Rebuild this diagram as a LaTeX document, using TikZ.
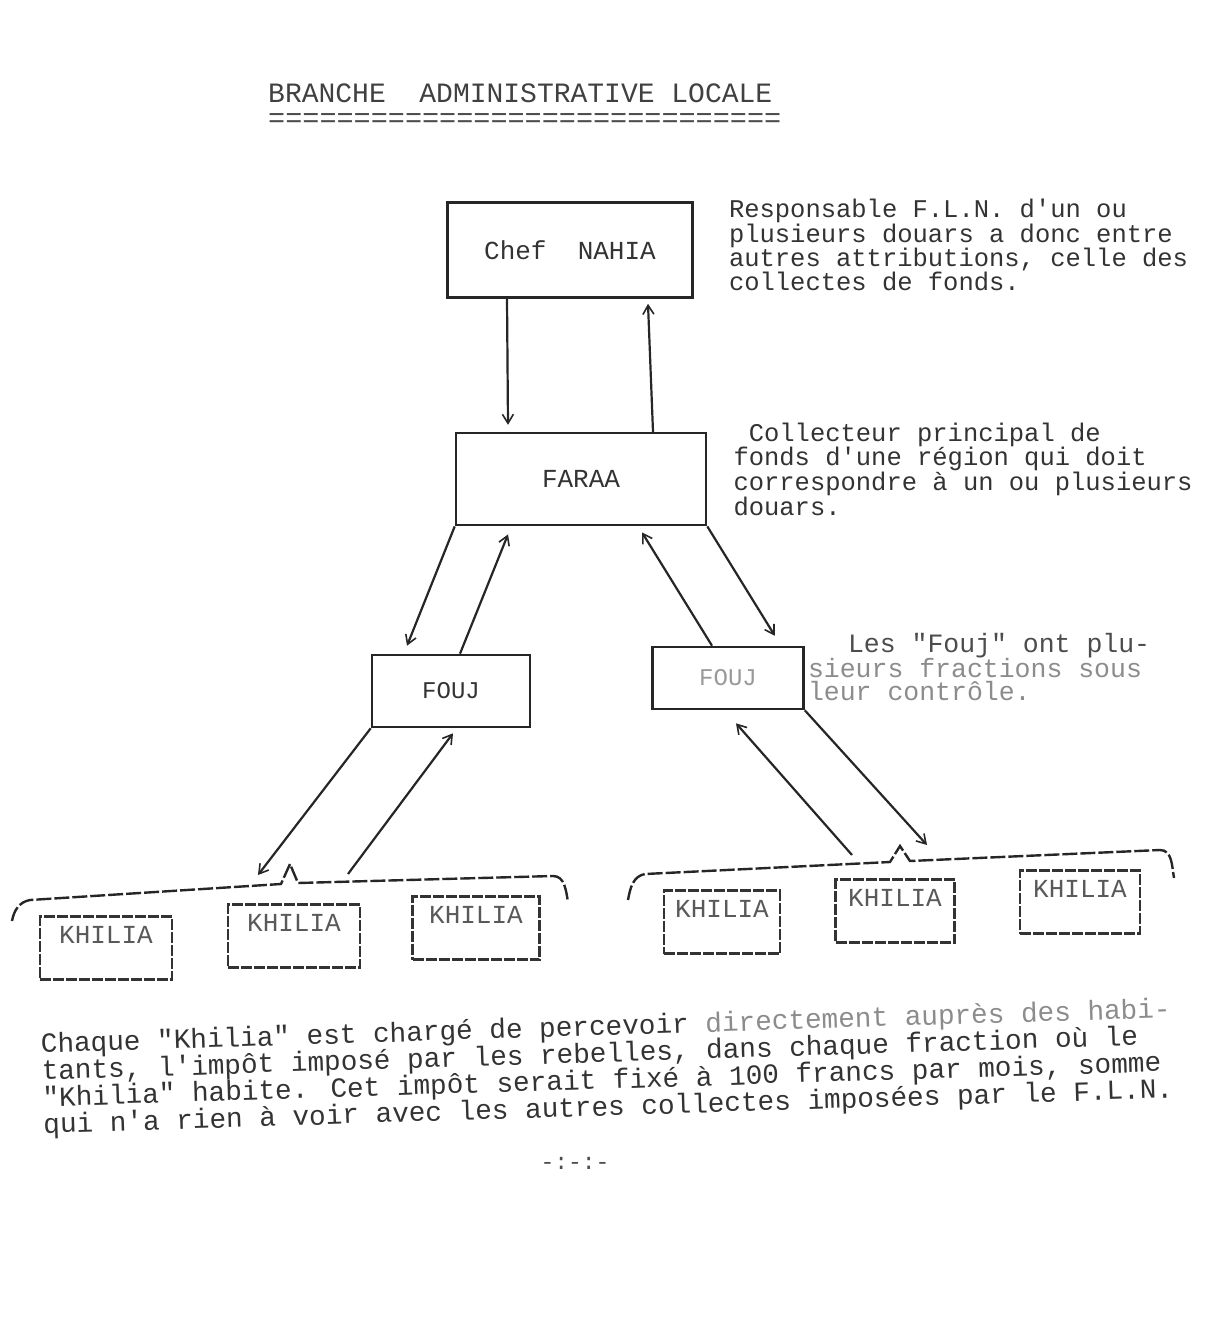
\documentclass[tikz,border=0pt]{standalone}
\usepackage{fontspec}
\setmainfont{Liberation Mono}[Ligatures=TeXOff]
\usepackage{tikz}
\usepackage{xcolor}
\usetikzlibrary{arrows.meta, positioning}
\tikzstyle{bigbox} = [rectangle, draw=black!85, line width=2.6pt, text centered, text=black!80, font=\fontsize{26}{26}\selectfont]
\tikzstyle{smallbox} = [rectangle, draw=black!80, line width=2.2pt, dash pattern=on 11pt off 2pt, inner sep=0pt, text height=27pt, text depth=36pt, text=black!65, font=\fontsize{26}{26}\selectfont]
\tikzstyle{note} = [align=left, inner sep=0pt, text=black!80, font=\fontsize{25.5}{22.5}\selectfont]
\tikzstyle{arrow} = [line width=2.2pt, draw=black!85, -{Straight Barb[length=9pt,width=11pt,line width=1.6pt]}]
\tikzstyle{brace} = [line width=2.4pt, draw=black!85, dash pattern=on 15pt off 3pt]

\begin{document}
\begin{tikzpicture}[x=1pt, y=-1pt]
    \useasboundingbox (0,0) rectangle (1220,1338);
    \node (title) [anchor=west, inner sep=0pt, text=black!75, font=\fontsize{28}{28}\selectfont] at (268,93) {BRANCHE~~ADMINISTRATIVE~LOCALE};
    \node (rule) [anchor=west, inner sep=0pt, text=black!70, font=\fontsize{28.5}{28}\selectfont] at (268,121) {==============================};

    \node (chef) [bigbox, minimum width=245pt, minimum height=95pt] at (570,250) {Chef~~NAHIA};
    \node (faraa) [bigbox, minimum width=250pt, minimum height=92pt, below=133pt of chef, xshift=11pt] {FARAA};
    \node (fouj1) [bigbox, minimum width=158pt, minimum height=72pt, font=\fontsize{24}{24}\selectfont] at (451,691) {FOUJ};
    \node (fouj2) [bigbox, minimum width=151pt, minimum height=62pt, text=black!40, font=\fontsize{24}{24}\selectfont] at (728,678) {FOUJ};

    \node (resp) [note, right=35pt of chef, yshift=5pt] {Responsable F.L.N. d'un ou\\plusieurs douars a donc entre\\autres attributions, celle des\\collectes de fonds.};
    \node (coll) [note, right=26pt of faraa, yshift=10pt] {~Collecteur principal de\\fonds d'une région qui doit\\correspondre à un ou plusieurs\\douars.};
    \node (foujnote) [note, right=3pt of fouj2, yshift=11pt, text=black!45, font=\fontsize{26.5}{23}\selectfont] {\hspace*{40pt}{\color{black!70}Les "Fouj" ont plu-}\\sieurs fractions sous\\leur contrôle.};

    % khilia row, left group then right group
    \node (k1) [smallbox, minimum width=132pt] at (106,948) {KHILIA};
    \node (k2) [smallbox, minimum width=132pt] at (294,936) {KHILIA};
    \node (k3) [smallbox, minimum width=127pt] at (476,928) {KHILIA};
    \node (k4) [smallbox, minimum width=116pt] at (722,922) {KHILIA};
    \node (k5) [smallbox, minimum width=119pt] at (895,911) {KHILIA};
    \node (k6) [smallbox, minimum width=120pt] at (1080,902) {KHILIA};

    \coordinate (lpeak) at (290,864);
    \coordinate (rpeak) at (900,846);
    \draw [brace] (12,921) to[out=80, in=190] (30,900) -- (281,884) -- (lpeak) -- (298,883) -- (553,876) to[out=0, in=100] (568,902);
    \draw [brace] (628,900) to[out=80, in=190] (645,874) -- (890,862) -- (rpeak) -- (910,861) -- (1160,850) to[out=0, in=100] (1174,878);

    \draw [arrow] ([xshift=-63pt]chef.south) -- ([xshift=-73pt,yshift=7pt]faraa.north);
    \draw [arrow] ([xshift=72pt]faraa.north) -- ([xshift=78pt,yshift=-5pt]chef.south);
    \draw [arrow] (faraa.south west) -- ([xshift=-44pt,yshift=8pt]fouj1.north);
    \draw [arrow] ([xshift=9pt]fouj1.north) -- ([xshift=-73pt,yshift=-8pt]faraa.south);
    \draw [arrow] ([xshift=-16pt]fouj2.north) -- ([xshift=61pt,yshift=-6pt]faraa.south);
    \draw [arrow] (faraa.south east) -- ([xshift=-30pt,yshift=10pt]fouj2.north east);
    \draw [arrow] (fouj1.south west) -- ([xshift=-32pt,yshift=-11pt]lpeak);
    \draw [arrow] ([xshift=58pt,yshift=-10pt]lpeak) -- ([xshift=2pt,yshift=-5pt]fouj1.south);
    \draw [arrow] ([xshift=-48pt,yshift=-9pt]rpeak) -- ([xshift=8pt,yshift=-13pt]fouj2.south);
    \draw [arrow] (fouj2.south east) -- ([xshift=27pt,yshift=1pt]rpeak);

    \node (para) [note, anchor=west, rotate=1.8, font=\fontsize{27.7}{24.5}\selectfont] at (42,1086) {Chaque "Khilia" est chargé de percevoir {\color{black!45}directement auprès des habi-}\\tants, l'impôt imposé par les rebelles, dans chaque fraction où le\\"Khilia" habite. Cet impôt serait fixé à 100 francs par mois, somme\\qui n'a rien à voir avec les autres collectes imposées par le F.L.N.};
    \node (fin) [inner sep=0pt, text=black!70, font=\fontsize{23}{23}\selectfont] at (575,1163) {-:-:-};
\end{tikzpicture}
\end{document}
